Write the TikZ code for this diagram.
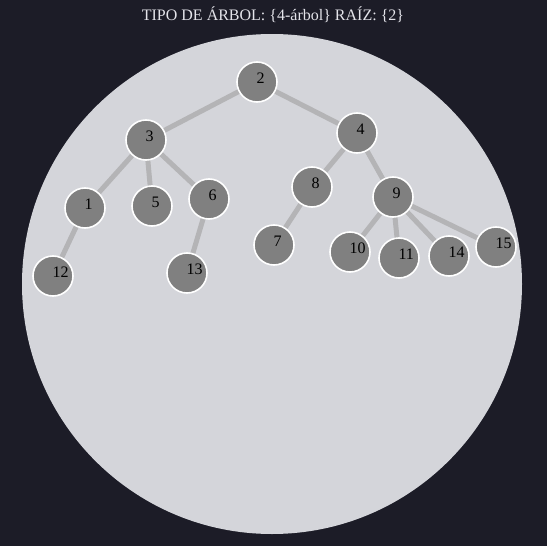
\documentclass[tikz,border=0pt]{standalone}
\usepackage{fontspec}
\setmainfont{Liberation Serif}
\usepackage{tikz}
\usetikzlibrary{backgrounds}
\definecolor{tr-bg}{HTML}{1C1C27}
\definecolor{tr-disc}{HTML}{D4D5DA}
\definecolor{tr-edge}{HTML}{B4B4B6}
\definecolor{tr-node}{HTML}{808080}
\definecolor{tr-title}{HTML}{E4E4EA}

\begin{document}
\begin{tikzpicture}[x=1pt, y=-1pt,
  vert/.style={circle, draw=white, line width=1.6pt, fill=tr-node, minimum size=40pt, inner sep=0pt},
  lbl/.style={text width=16pt, align=left, inner sep=0pt, xshift=7.5pt, yshift=4pt, font=\fontsize{16}{18}\selectfont, text=black},
  edge/.style={draw=tr-edge, line width=5pt}]
\useasboundingbox (0,0) rectangle (547,546);
\node[text=tr-title, font=\fontsize{16}{18}\selectfont] (title) at (273,15) {TIPO DE ÁRBOL: \{4-árbol\} RAÍZ: \{2\}};
% vertices
\node[vert, label={[lbl]center:2}] (n2) at (257,82) {};
\node[vert, label={[lbl]center:3}] (n3) at (146,140) {};
\node[vert, label={[lbl]center:4}] (n4) at (357,133) {};
\node[vert, label={[lbl]center:1}] (n1) at (85,208) {};
\node[vert, label={[lbl]center:5}] (n5) at (152,206) {};
\node[vert, label={[lbl]center:6}] (n6) at (209,199) {};
\node[vert, label={[lbl]center:8}] (n8) at (312,187) {};
\node[vert, label={[lbl]center:9}] (n9) at (393,197) {};
\node[vert, label={[lbl]center:12}] (n12) at (53,276) {};
\node[vert, label={[lbl]center:13}] (n13) at (187,273) {};
\node[vert, label={[lbl]center:7}] (n7) at (274,245) {};
\node[vert, label={[lbl]center:10}] (n10) at (350,252) {};
\node[vert, label={[lbl]center:11}] (n11) at (399,258) {};
\node[vert, label={[lbl]center:14}] (n14) at (449,256) {};
\node[vert, label={[lbl]center:15}] (n15) at (496,247) {};
% backdrop, disc and edges behind
\begin{scope}[on background layer]
\fill[tr-bg] (0,0) rectangle (547,546);
\fill[tr-disc] (272,284) circle (250);
\draw[edge] (n2.center) -- (n3.center);
\draw[edge] (n2.center) -- (n4.center);
\draw[edge] (n3.center) -- (n1.center);
\draw[edge] (n3.center) -- (n5.center);
\draw[edge] (n3.center) -- (n6.center);
\draw[edge] (n1.center) -- (n12.center);
\draw[edge] (n6.center) -- (n13.center);
\draw[edge] (n4.center) -- (n8.center);
\draw[edge] (n4.center) -- (n9.center);
\draw[edge] (n8.center) -- (n7.center);
\draw[edge] (n9.center) -- (n10.center);
\draw[edge] (n9.center) -- (n11.center);
\draw[edge] (n9.center) -- (n14.center);
\draw[edge] (n9.center) -- (n15.center);
\end{scope}
\end{tikzpicture}
\end{document}
